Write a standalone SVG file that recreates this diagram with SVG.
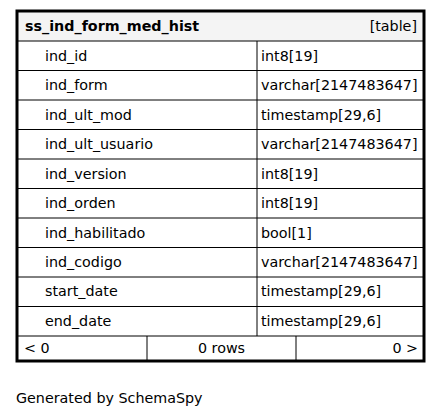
<svg xmlns="http://www.w3.org/2000/svg" width="443" height="417" viewBox="0 0 443 417">
<style>
text{font-family:"DejaVu Sans","Liberation Sans",sans-serif;font-size:14.3px;fill:#000}
.b{font-weight:bold}
.e{text-anchor:end}
.m{text-anchor:middle}
.ln{stroke:#000;stroke-width:1;fill:none}
</style>
<rect x="0" y="0" width="443" height="417" fill="#fff"/>
<g id="table">
<rect x="17" y="11" width="407" height="30" fill="#f4f4f4"/>
<text class="b" x="25" y="30.5">ss_ind_form_med_hist</text>
<text class="e" x="417" y="30.5">[table]</text>
</g>
<g id="rows" class="ln">
<path d="M17 41H424M17 70.5H424M17 100H424M17 129.5H424M17 159H424M17 188.5H424M17 218H424M17 247.5H424M17 277H424M17 306.5H424M17 336H424M257 41V336M147 336V360M296 336V360"/>
</g>
<g id="row-ind_id"><text x="45" y="60.5">ind_id</text><text x="261" y="60.5">int8[19]</text></g>
<g id="row-ind_form"><text x="45" y="90">ind_form</text><text x="261" y="90">varchar[2147483647]</text></g>
<g id="row-ind_ult_mod"><text x="45" y="119.5">ind_ult_mod</text><text x="261" y="119.5">timestamp[29,6]</text></g>
<g id="row-ind_ult_usuario"><text x="45" y="149">ind_ult_usuario</text><text x="261" y="149">varchar[2147483647]</text></g>
<g id="row-ind_version"><text x="45" y="178.5">ind_version</text><text x="261" y="178.5">int8[19]</text></g>
<g id="row-ind_orden"><text x="45" y="208">ind_orden</text><text x="261" y="208">int8[19]</text></g>
<g id="row-ind_habilitado"><text x="45" y="237.5">ind_habilitado</text><text x="261" y="237.5">bool[1]</text></g>
<g id="row-ind_codigo"><text x="45" y="266.5">ind_codigo</text><text x="261" y="266.5">varchar[2147483647]</text></g>
<g id="row-start_date"><text x="45" y="296">start_date</text><text x="261" y="296">timestamp[29,6]</text></g>
<g id="row-end_date"><text x="45" y="325.5">end_date</text><text x="261" y="325.5">timestamp[29,6]</text></g>
<g id="footer">
<text x="24" y="352.5">&lt; 0</text>
<text class="m" x="221.5" y="352.5">0 rows</text>
<text class="e" x="418" y="352.5">0 &gt;</text>
</g>
<rect x="17" y="11" width="407" height="350" fill="none" stroke="#000" stroke-width="3"/>
<text x="16" y="402.5">Generated by SchemaSpy</text>
</svg>
